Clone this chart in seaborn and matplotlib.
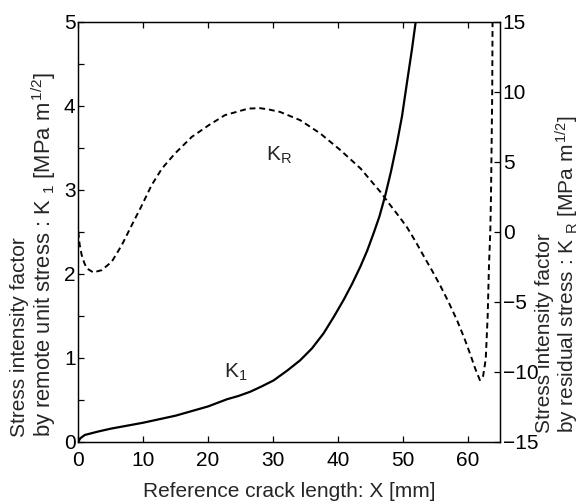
import numpy as np
import pandas as pd
import seaborn as sns
import matplotlib.pyplot as plt
from matplotlib.ticker import MultipleLocator

OUTPUT_PLOT_FILE = 'out.png'

# K1 (left axis, solid)
k1_x = [0.0, 0.3, 1.0, 3.0, 5.0, 10.0, 15.0, 20.0, 22.9, 24.7, 26.5, 28.3, 30.1,
        32.25, 34.2, 36.0, 37.8, 39.4, 40.9, 42.2, 43.5, 44.55, 45.5, 46.4, 47.3,
        48.2, 49.1, 49.9, 50.7, 51.4, 52.0]
k1_y = [0.0, 0.04, 0.08, 0.12, 0.155, 0.226, 0.31, 0.42, 0.505, 0.545, 0.595, 0.66, 0.73,
        0.85, 0.97, 1.11, 1.29, 1.49, 1.69, 1.88, 2.09, 2.28, 2.48, 2.68, 2.93,
        3.22, 3.55, 3.88, 4.3, 4.66, 5.0]

# KR (right axis, dashed)
kr_x = [0.0, 0.2, 0.52, 0.9, 1.3, 2.3, 3.6, 5.15, 6.7, 8.24, 9.8, 11.3, 12.9, 14.9,
        17.5, 20.1, 22.6, 26.2, 28.0, 29.3, 31.1, 34.2, 37.3, 40.4, 43.5, 46.55,
        48.1, 49.6, 50.7, 52.0, 53.2, 54.5, 55.8, 57.1, 58.4, 59.5, 60.45, 61.2,
        61.9, 62.4, 62.8, 63.1, 63.3, 63.5, 63.6, 63.7, 63.8, 63.85]
kr_y = [0.0, -0.9, -1.66, -2.2, -2.61, -2.9, -2.74, -2.14, -0.95, 0.48, 1.9, 3.34, 4.53, 5.6,
        6.79, 7.62, 8.34, 8.81, 8.84, 8.75, 8.57, 7.98, 7.03, 5.84, 4.53, 2.86,
        1.9, 1.0, 0.3, -0.7, -1.7, -2.75, -3.85, -5.05, -6.35, -7.6, -8.8, -9.8,
        -10.6, -10.3, -9.1, -6.0, -2.4, 0.0, 2.3, 6.0, 10.0, 15.0]

x_ticks = [0, 10, 20, 30, 40, 50, 60]
left_ticks = [0, 1, 2, 3, 4, 5]
right_ticks = [-15, -10, -5, 0, 5, 10, 15]

FS = 15
FS2 = 15.8   # second label line is drawn a little wider in the reference


def run():
    sns.set_style("ticks", {"xtick.direction": "in", "ytick.direction": "in"})
    plt.rcParams['font.family'] = ['Liberation Sans', 'DejaVu Sans']
    plt.rcParams['mathtext.fontset'] = 'custom'
    plt.rcParams['mathtext.rm'] = 'Liberation Sans'
    plt.rcParams['mathtext.it'] = 'Liberation Sans'
    plt.rcParams['mathtext.default'] = 'regular'

    df1 = pd.DataFrame({'x': k1_x, 'k1': k1_y})
    df2 = pd.DataFrame({'x': kr_x, 'kr': kr_y})

    fig = plt.figure(figsize=(5.81, 5.03), dpi=100)
    ax = fig.add_axes([0.1348, 0.1219, 0.7258, 0.8344])
    ax2 = ax.twinx()

    sns.lineplot(data=df1, x='x', y='k1', ax=ax, color='black', lw=1.6,
                 sort=False, estimator=None)
    sns.lineplot(data=df2, x='x', y='kr', ax=ax2, color='black', lw=1.4,
                 sort=False, estimator=None, linestyle=(0, (3, 2)))

    ax.set_xlim(0, 65)
    ax.set_ylim(0, 5)
    ax2.set_ylim(-15, 15)
    ax.set_xticks(x_ticks)
    ax.set_yticks(left_ticks)
    ax.yaxis.set_minor_locator(MultipleLocator(0.5))
    ax2.set_yticks(right_ticks)

    for a in (ax, ax2):
        for s in a.spines.values():
            s.set_visible(True)
            s.set_linewidth(0.9)
            s.set_color('black')
    ax.tick_params(axis='both', which='both', direction='in', length=4, width=0.9,
                   labelsize=FS, colors='black', top=True)
    ax.tick_params(axis='x', pad=6.5)
    ax.tick_params(axis='y', which='both', right=False, pad=2)
    ax2.tick_params(axis='y', which='both', direction='in', length=4, width=0.9,
                    labelsize=FS, pad=2, colors='black')

    ax.set_xlabel('Reference crack length: X [mm]', fontsize=FS, labelpad=9)
    ax.set_ylabel('')
    ax2.set_ylabel('')

    # two-line axis titles, lines aligned at the bottom like the reference
    fig.text(20 / 581, 1 - 437 / 503, 'Stress intensity factor',
             rotation=90, fontsize=FS, ha='center', va='bottom')
    fig.text(44 / 581, 1 - 437 / 503,
             'by remote unit stress : K $_{1}$ [MPa m$^{\\,1/2}$]',
             rotation=90, fontsize=FS2, ha='center', va='bottom')
    fig.text(545 / 581, 1 - 433 / 503, 'Stress intensity factor',
             rotation=90, fontsize=FS, ha='center', va='bottom')
    fig.text(567 / 581, 1 - 433 / 503,
             'by residual stress : K $_{R}$ [MPa m$^{\\,1/2}$]',
             rotation=90, fontsize=FS, ha='center', va='bottom')

    ax.text(31.0, 3.41, 'K$_R$', fontsize=FS, ha='center', va='center')
    ax.text(24.3, 0.83, 'K$_1$', fontsize=FS, ha='center', va='center')

    fig.savefig(OUTPUT_PLOT_FILE, dpi=100)


if __name__ == "__main__":
    run()
